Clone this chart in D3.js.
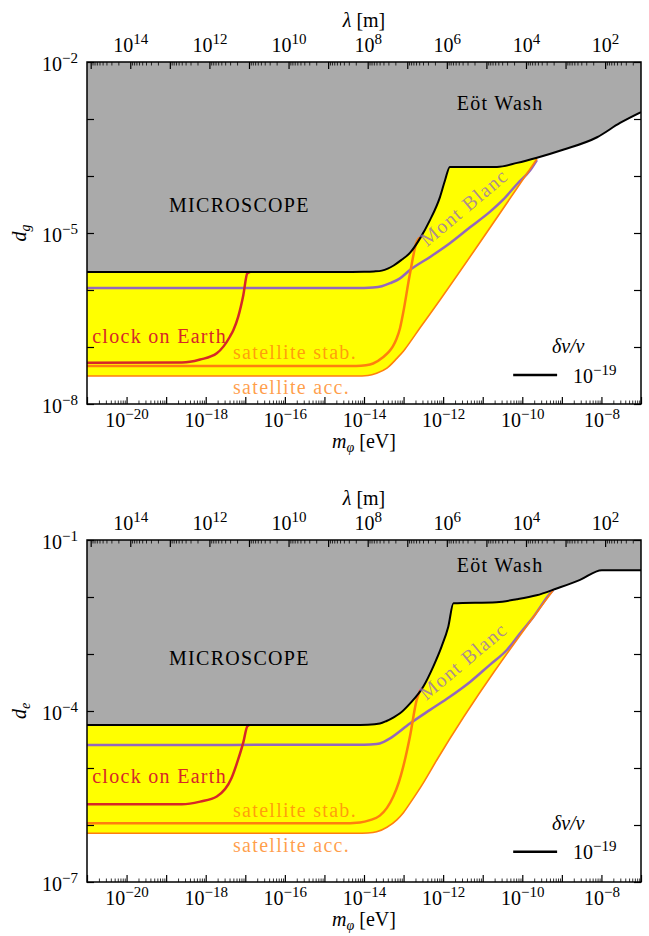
<!doctype html>
<html>
<head>
<meta charset="utf-8">
<title>Clock bounds on d_g and d_e</title>
<script src="https://d3js.org/d3.v7.min.js"></script>
<style>
    body {margin:0; background:#fff;}
    svg {display:block; font-family:"Liberation Serif", "Times New Roman", serif;}
    .axis line {stroke:#000;}
    .axis .domain {display:none;}
    .axis text {font-size:20px; fill:#000; font-family:"Liberation Serif", serif;}
    .minor line {stroke-width:0.8px;}
    .major line {stroke-width:1.2px;}
    .note {font-size:20px; letter-spacing:1.3px;}
</style>
</head>
<body>
<script>
"use strict";
// all curve points are [log10(m_phi / eV), log10(coupling)]
var massExtent = [1e-21, 1e-7];
var hcEvM = 1.2398e-6;              // lambda [m] = hc / m
var xTickExps = [-20, -18, -16, -14, -12, -10, -8];
var lambdaTickExps = [14, 12, 10, 8, 6, 4, 2];

// ---- d_g panel
var dgYExtent = [1e-8, 1e-2];
var dgYTickExps = [-2, -5, -8];
var dgBoundary = [[-21, -5.684], [-14.3, -5.684], [-14.0, -5.682], [-13.75, -5.675], [-13.55, -5.66],
    [-13.4, -5.625], [-13.25, -5.57], [-13.05, -5.47], [-12.84, -5.35],
    [-12.58, -5.09], [-12.33, -4.77], [-12.08, -4.37], [-11.95, -4.07], [-11.83, -3.84],
    [-10.64, -3.84], [-10.13, -3.77], [-9.63, -3.68], [-8.97, -3.54], [-8.11, -3.32],
    [-7.53, -3.07], [-7, -2.88]];
var dgClock = [[-21, -7.275], [-18.6, -7.27], [-18.4, -7.26], [-18.14, -7.22], [-17.72, -7.11],
    [-17.39, -6.82], [-17.30, -6.70], [-17.18, -6.47], [-17.05, -6.09], [-16.95, -5.71], [-16.88, -5.684]];
var dgStab = [[-21, -7.333], [-14.2, -7.333], [-13.95, -7.32], [-13.77, -7.29], [-13.52, -7.18],
    [-13.38, -7.09], [-13.27, -6.99], [-13.18, -6.86], [-13.09, -6.67], [-13.01, -6.40],
    [-12.84, -5.72], [-12.66, -5.14], [-12.56, -5.07]];
var dgAcc = [[-21, -7.51], [-14.2, -7.51], [-13.9, -7.50], [-13.68, -7.46], [-13.42, -7.37],
    [-13.17, -7.20], [-13.0, -7.07], [-12.8, -6.88], [-12.6, -6.68], [-12.35, -6.44],
    [-12.08, -6.175], [-9.63, -3.70]];
var dgMontBlanc = [[-21, -5.965], [-14.0, -5.965], [-13.77, -5.958], [-13.55, -5.935], [-13.34, -5.88],
    [-13.1, -5.80], [-12.84, -5.65], [-12.33, -5.42], [-11.83, -5.18], [-11.32, -4.90],
    [-10.82, -4.63], [-10.49, -4.42], [-10.13, -4.14], [-9.80, -3.90], [-9.63, -3.72]];

// ---- d_e panel
var deYExtent = [1e-7, 1e-1];
var deYTickExps = [-1, -4, -7];
var deBoundary = [[-21, -4.246], [-14.3, -4.246], [-13.9, -4.24], [-13.6, -4.22], [-13.43, -4.175],
    [-13.25, -4.11], [-13.09, -4.04], [-12.84, -3.87], [-12.5, -3.57], [-12.25, -3.22],
    [-12.04, -2.87], [-11.87, -2.52], [-11.74, -2.11], [-10.65, -2.09], [-10.14, -2.04],
    [-9.64, -1.97], [-9.13, -1.85], [-8.54, -1.70], [-7.99, -1.53], [-7, -1.53]];
var deClock = [[-21, -5.637], [-18.6, -5.635], [-18.4, -5.625], [-18.14, -5.59], [-17.72, -5.50],
    [-17.35, -5.18], [-17.18, -4.85], [-17.05, -4.55], [-16.95, -4.27], [-16.90, -4.246]];
var deStab = [[-21, -5.97], [-14.6, -5.97], [-14.1, -5.955], [-13.85, -5.915], [-13.6, -5.835],
    [-13.42, -5.70], [-13.26, -5.50], [-13.12, -5.25], [-13.01, -4.98], [-12.84, -4.45],
    [-12.67, -3.81], [-12.57, -3.62]];
var deAcc = [[-21, -6.146], [-14.2, -6.146], [-13.9, -6.14], [-13.68, -6.12], [-13.42, -6.04],
    [-13.17, -5.91], [-13.0, -5.78], [-12.84, -5.62], [-12.5, -5.26], [-12.16, -4.86], [-9.22, -1.88]];
var deMontBlanc = [[-21, -4.596], [-14.0, -4.592], [-13.68, -4.58], [-13.5, -4.54], [-13.34, -4.48],
    [-12.84, -4.22], [-12.33, -3.98], [-11.83, -3.75], [-11.32, -3.49], [-10.82, -3.19],
    [-10.39, -2.93], [-10.06, -2.64], [-9.72, -2.35], [-9.30, -1.94], [-9.22, -1.88]];

var legendTitle = "\u03b4\u03bd/\u03bd";
var legendExp = -19;

var W = 649, H = 936;
var left = 87, width = 554, height = 342;

var svg = d3.select("body").append("svg").attr("width", W).attr("height", H);

function expText(e) {
    return e < 0 ? "\u2212" + (-e) : String(e);
}

function powLabel(sel, e) {
    sel.text(null);
    sel.append("tspan").text("10");
    sel.append("tspan").attr("dy", -8).attr("font-size", "15px").text(expText(e));
}

function drawPanel(p) {
    var g = svg.append("g").attr("transform", "translate(" + left + "," + p.top + ")");
    var x = d3.scaleLog().domain(massExtent).range([0, width]);
    var y = d3.scaleLog().domain(p.yExtent).range([height, 0]);
    var xl = d3.scaleLog().domain([hcEvM / massExtent[0], hcEvM / massExtent[1]]).range([0, width]);
    var px = function(d) { return x(Math.pow(10, d[0])); };
    var py = function(d) { return y(Math.pow(10, d[1])); };

    var clipId = "clip" + p.name;
    g.append("clipPath").attr("id", clipId).append("rect").attr("width", width).attr("height", height);
    var belowId = "below" + p.name;
    g.append("clipPath").attr("id", belowId).append("path").datum(p.boundary)
        .attr("d", d3.area().x(px).y0(height).y1(py).curve(d3.curveMonotoneX));

    var plot = g.append("g").attr("clip-path", "url(#" + clipId + ")");

    // excluded region (MICROSCOPE / Eot-Wash)
    plot.append("path").datum(p.boundary)
        .attr("d", d3.area().x(px).y0(0).y1(py).curve(d3.curveMonotoneX))
        .attr("fill", "#aaaaaa");

    // reach of the clocks: above satellite acc., below the boundary
    plot.append("g").attr("clip-path", "url(#" + belowId + ")")
        .append("path").datum(p.acc)
        .attr("d", d3.area().x(px).y0(0).y1(py).curve(d3.curveMonotoneX))
        .attr("fill", "#ffff00");

    var line = d3.line().x(px).y(py).curve(d3.curveMonotoneX);
    var curves = [
        {data: p.montBlanc, color: "#9467bd", w: 2.5},
        {data: p.acc, color: "#ff7f0e", w: 1.6},
        {data: p.stab, color: "#ff7f0e", w: 2.5},
        {data: p.clock, color: "#d62728", w: 2.5},
        {data: p.boundary, color: "#000", w: 2}
    ];
    plot.selectAll("path.curve").data(curves).enter().append("path")
        .attr("class", "curve")
        .attr("d", function(c) { return line(c.data); })
        .attr("fill", "none")
        .attr("stroke", function(c) { return c.color; })
        .attr("stroke-width", function(c) { return c.w; })
        .attr("stroke-linejoin", "round");

    // annotations
    var at = function(lm, ld) { return [x(Math.pow(10, lm)), y(Math.pow(10, ld))]; };
    p.notes.forEach(function(n) {
        var pos = at(n.at[0], n.at[1]);
        g.append("text").attr("class", "note")
            .attr("transform", "translate(" + pos[0] + "," + pos[1] + ")" + (n.rot ? " rotate(" + n.rot + ")" : ""))
            .attr("text-anchor", n.anchor || "start")
            .attr("fill", n.color)
            .attr("fill-opacity", n.opacity || 1)
            .text(n.text);
    });

    // legend
    var lt = at(p.legend.title[0], p.legend.title[1]);
    g.append("text").attr("x", lt[0]).attr("y", lt[1]).attr("font-size", "20px")
        .attr("text-anchor", "middle").attr("font-style", "italic").text(legendTitle);
    var l0 = at(p.legend.line[0], p.legend.line[2]);
    var l1 = at(p.legend.line[1], p.legend.line[2]);
    g.append("line").attr("x1", l0[0]).attr("x2", l1[0]).attr("y1", l0[1]).attr("y2", l1[1])
        .attr("stroke", "#000").attr("stroke-width", 2.5);
    var ll = at(p.legend.label[0], p.legend.label[1]);
    g.append("text").attr("x", ll[0]).attr("y", ll[1]).attr("font-size", "20px")
        .call(powLabel, legendExp);

    // ticks
    var decades = d3.range(-21, -6);
    var majorX = decades.map(function(e) { return Math.pow(10, e); });
    var minorX = [];
    decades.slice(0, -1).forEach(function(e) {
        for (var j = 2; j < 10; j++) minorX.push(j * Math.pow(10, e));
    });
    var lamDecades = d3.range(0, 17);
    var lamLo = hcEvM / massExtent[1], lamHi = hcEvM / massExtent[0];
    var majorL = lamDecades.map(function(e) { return Math.pow(10, e); })
        .filter(function(v) { return v >= lamLo && v <= lamHi; });
    var minorL = [];
    lamDecades.forEach(function(e) {
        for (var j = 2; j < 10; j++) {
            var v = j * Math.pow(10, e);
            if (v >= lamLo && v <= lamHi) minorL.push(v);
        }
    });
    var lo = Math.round(Math.log10(p.yExtent[0])), hi = Math.round(Math.log10(p.yExtent[1]));
    var majorY = d3.range(lo, hi + 1).map(function(e) { return Math.pow(10, e); });
    var ex = function(v) { return Math.round(Math.log10(v)); };

    // bottom
    g.append("g").attr("class", "axis minor").attr("transform", "translate(0," + height + ")")
        .call(d3.axisBottom(x).tickValues(minorX).tickSize(-3.5).tickSizeOuter(0).tickFormat(""));
    g.append("g").attr("class", "axis major").attr("transform", "translate(0," + height + ")")
        .call(d3.axisBottom(x).tickValues(majorX).tickSize(-7).tickSizeOuter(0).tickPadding(9).tickFormat(""))
        .selectAll("text").each(function(d) {
            if (xTickExps.indexOf(ex(d)) >= 0) d3.select(this).call(powLabel, ex(d));
        });
    // top (wavelength)
    g.append("g").attr("class", "axis minor")
        .call(d3.axisTop(xl).tickValues(minorL).tickSize(-3.5).tickSizeOuter(0).tickFormat(""));
    g.append("g").attr("class", "axis major")
        .call(d3.axisTop(xl).tickValues(majorL).tickSize(-7).tickSizeOuter(0).tickPadding(10).tickFormat(""))
        .selectAll("text").each(function(d) {
            if (lambdaTickExps.indexOf(ex(d)) >= 0) d3.select(this).call(powLabel, ex(d));
        });
    // left / right
    g.append("g").attr("class", "axis major")
        .call(d3.axisLeft(y).tickValues(majorY).tickSize(-7).tickSizeOuter(0).tickPadding(9).tickFormat(""))
        .selectAll("text").attr("dy", "0.4em").each(function(d) {
            if (p.yTickExps.indexOf(ex(d)) >= 0) d3.select(this).call(powLabel, ex(d));
        });
    g.append("g").attr("class", "axis major").attr("transform", "translate(" + width + ",0)")
        .call(d3.axisRight(y).tickValues(majorY).tickSize(-7).tickSizeOuter(0).tickFormat(""));

    g.append("rect").attr("width", width).attr("height", height)
        .attr("fill", "none").attr("stroke", "#000").attr("stroke-width", 1.5);

    // axis titles
    var xt = g.append("text").attr("x", width / 2).attr("y", height + 44)
        .attr("text-anchor", "middle").attr("font-size", "20px");
    xt.append("tspan").attr("font-style", "italic").text("m");
    xt.append("tspan").attr("font-style", "italic").attr("font-size", "14px").attr("dy", 4).text("\u03c6");
    xt.append("tspan").attr("dy", -4).text(" [eV]");

    var tt = g.append("text").attr("x", width / 2).attr("y", -35)
        .attr("text-anchor", "middle").attr("font-size", "20px");
    tt.append("tspan").attr("font-style", "italic").text("\u03bb");
    tt.append("tspan").text(" [m]");

    var yt = g.append("text").attr("transform", "translate(-61," + (height / 2) + ") rotate(-90)")
        .attr("text-anchor", "middle").attr("font-size", "20px");
    yt.append("tspan").attr("font-style", "italic").text("d");
    yt.append("tspan").attr("font-style", "italic").attr("font-size", "14px").attr("dy", 4).text(p.sub);
}

drawPanel({
    name: "g", top: 62, yExtent: dgYExtent, yTickExps: dgYTickExps, sub: "g",
    boundary: dgBoundary, clock: dgClock, stab: dgStab, acc: dgAcc, montBlanc: dgMontBlanc,
    notes: [
        {text: "MICROSCOPE", at: [-17.15, -4.63], anchor: "middle", color: "#000"},
        {text: "E\u00f6t Wash", at: [-10.56, -2.84], anchor: "middle", color: "#000"},
        {text: "clock on Earth", at: [-20.87, -6.925], color: "#d62728"},
        {text: "satellite stab.", at: [-17.31, -7.21], color: "#ff7f0e", opacity: 0.75},
        {text: "satellite acc.", at: [-17.31, -7.82], color: "#ff7f0e", opacity: 0.75},
        {text: "Mont Blanc", at: [-12.41, -5.25], rot: -40, color: "#9467bd", opacity: 0.75}
    ],
    legend: {title: [-8.84, -7.105], line: [-10.23, -9.12, -7.49], label: [-8.72, -7.63]}
});

drawPanel({
    name: "e", top: 540, yExtent: deYExtent, yTickExps: deYTickExps, sub: "e",
    boundary: deBoundary, clock: deClock, stab: deStab, acc: deAcc, montBlanc: deMontBlanc,
    notes: [
        {text: "MICROSCOPE", at: [-17.15, -3.193], anchor: "middle", color: "#000"},
        {text: "E\u00f6t Wash", at: [-10.56, -1.556], anchor: "middle", color: "#000"},
        {text: "clock on Earth", at: [-20.87, -5.268], color: "#d62728"},
        {text: "satellite stab.", at: [-17.31, -5.854], color: "#ff7f0e", opacity: 0.75},
        {text: "satellite acc.", at: [-17.31, -6.468], color: "#ff7f0e", opacity: 0.75},
        {text: "Mont Blanc", at: [-12.43, -3.825], rot: -40, color: "#9467bd", opacity: 0.75}
    ],
    legend: {title: [-8.84, -6.088], line: [-10.23, -9.12, -6.468], label: [-8.72, -6.596]}
});
</script>
</body>
</html>
